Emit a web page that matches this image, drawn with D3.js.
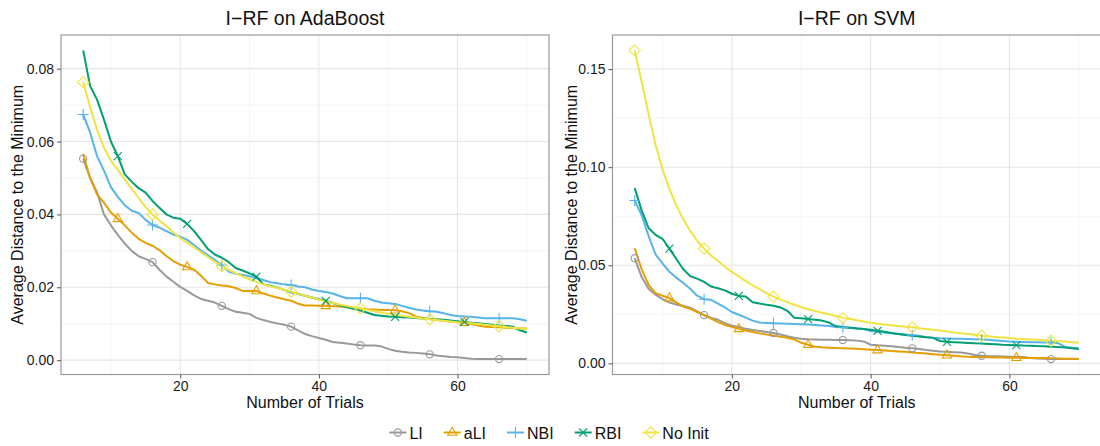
<!DOCTYPE html>
<html>
<head>
<meta charset="utf-8">
<script src="https://cdn.jsdelivr.net/npm/d3@7/dist/d3.min.js"></script>
<style>
    body { margin: 0; background: #fff; }
    svg text { font-family: "Liberation Sans", Arial, Helvetica, sans-serif; }
</style>
</head>
<body>
<div id="chart"></div>
<script>
// x values: number of trials (6..70)
const trials = d3.range(6, 71);
const seriesNames = ['LI', 'aLI', 'NBI', 'RBI', 'No Init'];

// trials where a marker is drawn on the line
const markerTrialsA = [6, 16, 26, 36, 46, 56, 66];
const markerTrialsB = [11, 21, 31, 41, 51, 61];

// tick values
const xTicks = [20, 40, 60];
const adaYTicks = [0, 0.02, 0.04, 0.06, 0.08];
const svmYTicks = [0, 0.05, 0.10, 0.15];

// I-RF on AdaBoost
const adaLI = [
    0.0553, 0.050, 0.046, 0.040, 0.037, 0.0344, 0.032, 0.030, 0.0285, 0.0278,
    0.0269, 0.0248, 0.023, 0.0215, 0.0201, 0.019, 0.0178, 0.0168, 0.0163, 0.0158,
    0.0149, 0.014, 0.0133, 0.013, 0.0127, 0.0116, 0.011, 0.0105, 0.0101, 0.0097,
    0.0092, 0.0082, 0.0072, 0.0066, 0.0061, 0.0056, 0.005, 0.0048, 0.0046, 0.0043,
    0.0041, 0.004, 0.004, 0.0038, 0.0031, 0.0026, 0.0023, 0.0021, 0.002, 0.0018,
    0.0016, 0.0013, 0.0011, 0.0009, 0.0008, 0.0006, 0.0004, 0.0003, 0.0003, 0.0003,
    0.0003, 0.0003, 0.0003, 0.0003, 0.0003];
const adaALI = [
    0.0566, 0.050, 0.0455, 0.0432, 0.0405, 0.0388, 0.037, 0.035, 0.0333, 0.0322,
    0.0314, 0.0302, 0.0286, 0.0272, 0.0262, 0.0256, 0.0248, 0.0232, 0.0212, 0.0208,
    0.0205, 0.0203, 0.0198, 0.019, 0.019, 0.019, 0.0183, 0.0177, 0.0172, 0.0167,
    0.0163, 0.0155, 0.015, 0.015, 0.0149, 0.0149, 0.0148, 0.0147, 0.0146, 0.0144,
    0.0142, 0.014, 0.0139, 0.0138, 0.0138, 0.0137, 0.0134, 0.0129, 0.012, 0.0116,
    0.0113, 0.011, 0.0108, 0.0106, 0.0104, 0.0103, 0.0099, 0.0095, 0.0092, 0.0091,
    0.009, 0.0089, 0.0088, 0.0087, 0.0087];
const adaNBI = [
    0.0674, 0.0625, 0.056, 0.052, 0.0475, 0.0448, 0.0425, 0.041, 0.0404, 0.0385,
    0.0371, 0.0364, 0.0354, 0.0345, 0.0339, 0.033, 0.0316, 0.0301, 0.0288, 0.0275,
    0.0261, 0.0243, 0.0237, 0.0234, 0.023, 0.0225, 0.022, 0.0214, 0.0211, 0.0208,
    0.0206, 0.0202, 0.020, 0.0194, 0.019, 0.0187, 0.0183, 0.0176, 0.017, 0.017,
    0.017, 0.017, 0.0163, 0.0158, 0.0156, 0.0154, 0.0149, 0.0144, 0.0139, 0.0136,
    0.0134, 0.0133, 0.0129, 0.0124, 0.0121, 0.012, 0.0119, 0.0117, 0.0115, 0.0115,
    0.0115, 0.0115, 0.0115, 0.0112, 0.0108];
const adaRBI = [
    0.085, 0.0752, 0.0715, 0.066, 0.060, 0.056, 0.051, 0.049, 0.0472, 0.046,
    0.0437, 0.0418, 0.040, 0.0391, 0.0388, 0.0374, 0.0354, 0.033, 0.0305, 0.029,
    0.0281, 0.0269, 0.0253, 0.0246, 0.0238, 0.0229, 0.0208, 0.0204, 0.0199, 0.0193,
    0.0186, 0.0182, 0.0177, 0.0172, 0.0167, 0.0163, 0.0157, 0.0151, 0.0146, 0.0141,
    0.0136, 0.013, 0.0124, 0.0122, 0.012, 0.0119, 0.0118, 0.0117, 0.0116, 0.0114,
    0.0113, 0.0112, 0.0111, 0.0109, 0.0107, 0.0105, 0.0103, 0.0101, 0.0099, 0.0097,
    0.0095, 0.0094, 0.0092, 0.0082, 0.0076];
const adaNoInit = [
    0.0763, 0.0695, 0.0632, 0.0583, 0.0547, 0.0522, 0.0496, 0.047, 0.0445, 0.042,
    0.040, 0.0383, 0.0368, 0.0351, 0.0335, 0.0322, 0.031, 0.0296, 0.0283, 0.027,
    0.0258, 0.0248, 0.0238, 0.023, 0.0222, 0.0215, 0.0208, 0.0203, 0.0198, 0.0193,
    0.0188, 0.0182, 0.0177, 0.0172, 0.0166, 0.0161, 0.0157, 0.0153, 0.0149, 0.0145,
    0.0142, 0.0138, 0.0134, 0.0131, 0.0127, 0.0124, 0.0122, 0.0119, 0.0117, 0.0114,
    0.0112, 0.011, 0.0108, 0.0106, 0.0104, 0.0103, 0.0101, 0.0099, 0.0097, 0.0095,
    0.0093, 0.0091, 0.0089, 0.0087, 0.0085];

// I-RF on SVM
const svmLI = [
    0.0536, 0.044, 0.038, 0.035, 0.0328, 0.031, 0.030, 0.0293, 0.0284, 0.0265,
    0.0246, 0.0232, 0.0222, 0.0205, 0.0192, 0.0185, 0.0176, 0.017, 0.0165, 0.016,
    0.0155, 0.0147, 0.0138, 0.0131, 0.0126, 0.0123, 0.0122, 0.0121, 0.012, 0.0119,
    0.0119, 0.0118, 0.0116, 0.0112, 0.0095, 0.0092, 0.009, 0.0087, 0.0083, 0.008,
    0.0077, 0.0073, 0.0068, 0.0064, 0.0061, 0.0059, 0.0057, 0.0055, 0.005, 0.0043,
    0.0039, 0.0037, 0.0036, 0.0035, 0.0034, 0.0034, 0.0032, 0.0028, 0.0025, 0.0023,
    0.0022, 0.0022, 0.0022, 0.0022, 0.0022];
const svmALI = [
    0.0587, 0.048, 0.040, 0.0358, 0.0345, 0.0333, 0.031, 0.029, 0.0278, 0.0262,
    0.0246, 0.0228, 0.021, 0.0196, 0.0186, 0.0176, 0.0168, 0.016, 0.0153, 0.0147,
    0.0142, 0.0136, 0.013, 0.0122, 0.0105, 0.0095, 0.0085, 0.0082, 0.008, 0.0078,
    0.0077, 0.0076, 0.0074, 0.0072, 0.007, 0.0068, 0.0066, 0.0063, 0.0061, 0.0059,
    0.0056, 0.0053, 0.005, 0.0047, 0.0044, 0.0042, 0.0039, 0.0036, 0.0034, 0.0033,
    0.0032, 0.0031, 0.003, 0.003, 0.0029, 0.0029, 0.0028, 0.0028, 0.0027, 0.0027,
    0.0026, 0.0025, 0.0024, 0.0023, 0.0022];
const svmNBI = [
    0.083, 0.0755, 0.065, 0.0555, 0.051, 0.0467, 0.0437, 0.041, 0.038, 0.0345,
    0.0327, 0.0324, 0.0305, 0.0285, 0.0262, 0.0248, 0.0233, 0.0218, 0.0208, 0.0206,
    0.0204, 0.0203, 0.0202, 0.0201, 0.020, 0.0198, 0.0196, 0.0193, 0.019, 0.0186,
    0.0183, 0.0181, 0.0179, 0.0175, 0.0165, 0.0161, 0.0157, 0.0153, 0.015, 0.0147,
    0.0144, 0.014, 0.0135, 0.0131, 0.0128, 0.0127, 0.0126, 0.0125, 0.0124, 0.0123,
    0.0122, 0.012, 0.0117, 0.0114, 0.0111, 0.011, 0.0109, 0.0108, 0.0108, 0.0107,
    0.0107, 0.0103, 0.0085, 0.008, 0.0077];
const svmRBI = [
    0.0893, 0.078, 0.069, 0.0655, 0.0635, 0.0585, 0.0532, 0.048, 0.0445, 0.0432,
    0.0415, 0.0392, 0.0383, 0.0372, 0.0355, 0.0344, 0.0341, 0.0312, 0.0305, 0.0299,
    0.0294, 0.0285, 0.0268, 0.0232, 0.023, 0.0226, 0.0222, 0.0218, 0.0208, 0.0189,
    0.0185, 0.0182, 0.0178, 0.0175, 0.0171, 0.0166, 0.0161, 0.0155, 0.015, 0.0145,
    0.0141, 0.0137, 0.0133, 0.013, 0.0114, 0.011, 0.0108, 0.0106, 0.0104, 0.0102,
    0.0101, 0.0099, 0.0097, 0.0095, 0.0094, 0.0093, 0.0091, 0.009, 0.0088, 0.0087,
    0.0085, 0.0083, 0.0081, 0.0077, 0.0073];
const svmNoInit = [
    0.1595, 0.1435, 0.127, 0.1115, 0.099, 0.089, 0.0805, 0.0735, 0.0675, 0.0625,
    0.0585, 0.055, 0.0522, 0.0492, 0.0466, 0.0443, 0.0419, 0.0397, 0.0378, 0.0358,
    0.034, 0.0325, 0.0312, 0.0299, 0.0287, 0.0276, 0.0267, 0.0258, 0.025, 0.0242,
    0.0232, 0.0226, 0.022, 0.0214, 0.0207, 0.0202, 0.0198, 0.0194, 0.019, 0.0187,
    0.0184, 0.0179, 0.0175, 0.0171, 0.0167, 0.0163, 0.0158, 0.0154, 0.015, 0.0146,
    0.0141, 0.0138, 0.0135, 0.0132, 0.0129, 0.0126, 0.0124, 0.0122, 0.012, 0.0118,
    0.0115, 0.0113, 0.0111, 0.0108, 0.0105];

// setting up colour + shape scales (ggplot colour-blind palette)
const colorScale = d3.scaleOrdinal()
    .domain(seriesNames)
    .range(['#999999', '#E69F00', '#56B4E9', '#009E73', '#F0E442']);
const shapeScale = d3.scaleOrdinal()
    .domain(seriesNames)
    .range(['circle', 'triangle', 'plus', 'cross', 'diamond']);
const markerScale = d3.scaleOrdinal()
    .domain(seriesNames)
    .range([markerTrialsA, markerTrialsB, markerTrialsA, markerTrialsB, markerTrialsA]);

// open ggplot-like point shapes
function shapePath(shape) {
    switch (shape) {
        case 'circle': return 'M3.6,0A3.6,3.6 0 1,1 -3.6,0A3.6,3.6 0 1,1 3.6,0Z';
        case 'triangle': return 'M0,-5.2L4.6,2.8L-4.6,2.8Z';
        case 'plus': return 'M-5.5,0H5.5M0,-5.5V5.5';
        case 'cross': return 'M-4,-4L4,4M-4,4L4,-4';
        case 'diamond': return 'M0,-5.6L5.6,0L0,5.6L-5.6,0Z';
    }
}

function buildSeries(values) {
    return seriesNames.map((name, i) => ({
        name: name,
        values: trials.map((t, j) => ({ t: t, v: values[i][j] }))
    }));
}

const svg = d3.select('#chart')
    .append('svg')
    .attr('width', 1100)
    .attr('height', 446);

// defining panel function
function drawPanel(opts) {
    const { left, right, top, bottom, title, yTicks, series, yTitleX } = opts;

    // setting up scales, 5% expansion like ggplot
    const allVals = series.flatMap(s => s.values.map(d => d.v));
    const xExt = d3.extent(trials);
    const yExt = d3.extent(allVals);
    const xPad = (xExt[1] - xExt[0]) * 0.05;
    const yPad = (yExt[1] - yExt[0]) * 0.05;

    const x = d3.scaleLinear()
        .domain([xExt[0] - xPad, xExt[1] + xPad])
        .range([left, right]);
    const y = d3.scaleLinear()
        .domain([yExt[0] - yPad, yExt[1] + yPad])
        .range([bottom, top]);

    const minorOf = (ticks, scale) => {
        const step = ticks[1] - ticks[0];
        const dom = scale.domain();
        return d3.range(ticks[0] - step / 2, dom[1], step)
            .filter(v => v > dom[0] && v < dom[1]);
    };

    const g = svg.append('g').classed('panel', true);

    // grid
    const grid = g.append('g').classed('grid', true);
    grid.selectAll('.minor-x')
        .data(minorOf(xTicks, x))
        .enter().append('line')
        .attr('x1', d => x(d)).attr('x2', d => x(d))
        .attr('y1', top).attr('y2', bottom)
        .attr('stroke', '#f3f3f3').attr('stroke-width', 0.8);
    grid.selectAll('.minor-y')
        .data(minorOf(yTicks, y))
        .enter().append('line')
        .attr('y1', d => y(d)).attr('y2', d => y(d))
        .attr('x1', left).attr('x2', right)
        .attr('stroke', '#f3f3f3').attr('stroke-width', 0.8);
    grid.selectAll('.major-x')
        .data(xTicks)
        .enter().append('line')
        .attr('x1', d => x(d)).attr('x2', d => x(d))
        .attr('y1', top).attr('y2', bottom)
        .attr('stroke', '#e6e6e6').attr('stroke-width', 1.1);
    grid.selectAll('.major-y')
        .data(yTicks)
        .enter().append('line')
        .attr('y1', d => y(d)).attr('y2', d => y(d))
        .attr('x1', left).attr('x2', right)
        .attr('stroke', '#e6e6e6').attr('stroke-width', 1.1);

    // lines
    const line = d3.line()
        .x(d => x(d.t))
        .y(d => y(d.v));

    g.append('g').classed('lines', true)
        .selectAll('path')
        .data(series)
        .enter().append('path')
        .attr('d', d => line(d.values))
        .attr('fill', 'none')
        .attr('stroke', d => colorScale(d.name))
        .attr('stroke-width', 2)
        .attr('stroke-linejoin', 'round');

    // points
    const pts = g.append('g').classed('points', true);
    series.forEach(s => {
        const marks = markerScale(s.name);
        pts.selectAll(null)
            .data(s.values.filter(d => marks.includes(d.t)))
            .enter().append('path')
            .attr('transform', d => `translate(${x(d.t)},${y(d.v)})`)
            .attr('d', shapePath(shapeScale(s.name)))
            .attr('fill', 'none')
            .attr('stroke', colorScale(s.name))
            .attr('stroke-width', 1.1);
    });

    // border
    g.append('rect')
        .attr('x', left).attr('y', top)
        .attr('width', right - left).attr('height', bottom - top)
        .attr('fill', 'none')
        .attr('stroke', '#9a9a9a')
        .attr('stroke-width', 1.2);

    // axes
    const xAxis = g.append('g')
        .attr('transform', `translate(0,${bottom})`)
        .call(d3.axisBottom(x).tickValues(xTicks).tickSize(4).tickPadding(3));
    const yAxis = g.append('g')
        .attr('transform', `translate(${left},0)`)
        .call(d3.axisLeft(y).tickValues(yTicks).tickSize(4).tickPadding(3)
            .tickFormat(d3.format('.2f')));
    [xAxis, yAxis].forEach(a => {
        a.select('.domain').remove();
        a.selectAll('.tick line').attr('stroke', '#555').attr('stroke-width', 1);
        a.selectAll('.tick text')
            .attr('fill', '#1a1a1a')
            .style('font-size', '14px')
            .style('font-family', '"Liberation Sans", Arial, sans-serif');
    });

    // titles
    g.append('text')
        .attr('x', (left + right) / 2)
        .attr('y', 25)
        .attr('text-anchor', 'middle')
        .attr('fill', '#111')
        .style('font-size', '19.5px')
        .text(title);
    g.append('text')
        .attr('x', (left + right) / 2)
        .attr('y', 408)
        .attr('text-anchor', 'middle')
        .attr('fill', '#111')
        .style('font-size', '16px')
        .text('Number of Trials');
    g.append('text')
        .attr('transform', `translate(${yTitleX},${(top + bottom) / 2}) rotate(-90)`)
        .attr('text-anchor', 'middle')
        .attr('fill', '#111')
        .style('font-size', '16px')
        .text('Average Distance to the Minimum');
}

drawPanel({
    left: 61, right: 549, top: 35, bottom: 374.5,
    title: 'I\u2212RF on AdaBoost',
    yTicks: adaYTicks,
    series: buildSeries([adaLI, adaALI, adaNBI, adaRBI, adaNoInit]),
    yTitleX: 23
});

drawPanel({
    left: 612.5, right: 1101, top: 35, bottom: 374.5,
    title: 'I\u2212RF on SVM',
    yTicks: svmYTicks,
    series: buildSeries([svmLI, svmALI, svmNBI, svmRBI, svmNoInit]),
    yTitleX: 577
});

/* LEGEND */
const legend = svg.append('g').classed('legend', true);
const items = legend.selectAll('.legend-item')
    .data(seriesNames)
    .enter().append('g')
    .classed('legend-item', true);

items.append('line')
    .attr('x1', 0).attr('x2', 17)
    .attr('y1', 0).attr('y2', 0)
    .attr('stroke', d => colorScale(d))
    .attr('stroke-width', 2);
items.append('path')
    .attr('transform', 'translate(8.5,0)')
    .attr('d', d => shapePath(shapeScale(d)))
    .attr('fill', 'none')
    .attr('stroke', d => colorScale(d))
    .attr('stroke-width', 1.1);
items.append('text')
    .attr('x', 20)
    .attr('y', 6)
    .attr('fill', '#111')
    .style('font-size', '16px')
    .text(d => d);

// laying out legend items horizontally, centred
const gap = 21;
let cursor = 0;
const offsets = [];
items.each(function() {
    const w = 20 + this.querySelector('text').getComputedTextLength();
    offsets.push(cursor);
    cursor += w + gap;
});
const total = cursor - gap;
const startX = 549 - total / 2;
items.attr('transform', (d, i) => `translate(${startX + offsets[i]},432.5)`);
</script>
</body>
</html>
